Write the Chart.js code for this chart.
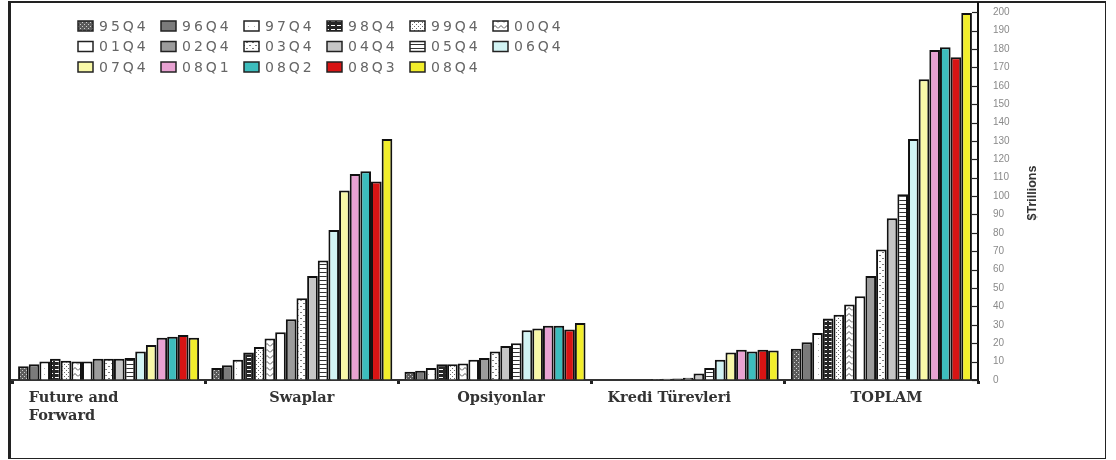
<!DOCTYPE html>
<html>
<head>
<meta charset="utf-8">
<title>Türev ürünler</title>
<script src="https://cdn.jsdelivr.net/npm/chart.js@4.4.1/dist/chart.umd.min.js"></script>
<style>
  html, body { margin: 0; padding: 0; background: #fff; }
  #wrap { position: relative; width: 1116px; height: 460px; overflow: hidden; }
  #frame { position: absolute; left: 8px; top: 1px; width: 1094px; height: 455px;
           border: solid #222; border-width: 2px 1px 1px 3px; }
  #chart { position: absolute; left: 0; top: 0; }
</style>
</head>
<body>
<div id="wrap">
  <div id="frame"></div>
  <canvas id="chart" width="1116" height="460"></canvas>
</div>
<script>
// ---------- data ($ trillions) ----------
const categories = [['Future and', 'Forward'], 'Swaplar', 'Opsiyonlar', 'Kredi Türevleri', 'TOPLAM'];

const periods = ['95Q4', '96Q4', '97Q4', '98Q4', '99Q4', '00Q4',
                 '01Q4', '02Q4', '03Q4', '04Q4', '05Q4', '06Q4',
                 '07Q4', '08Q1', '08Q2', '08Q3', '08Q4'];

const futureForward  = [7.5, 8.5, 10, 11.5, 10.5, 10, 10, 11.5, 11.5, 11.5, 12, 15.5, 19, 23, 23.5, 24.5, 23];
const swaplar        = [6.5, 8, 11, 15, 18, 22.5, 26, 33, 44.5, 56.5, 65, 81.5, 103, 112, 113.5, 108, 131];
const opsiyonlar     = [4.5, 5, 6.5, 8.5, 8.5, 9, 11, 12, 15.5, 18.5, 20, 27, 28, 29.5, 29.5, 27.5, 31];
const krediTurevleri = [0, 0, 0, 0, 0, 0.5, 0.7, 0.8, 1.2, 3.5, 6.5, 11, 15, 16.5, 15.5, 16.5, 16];
const toplam         = [17, 20.5, 25.5, 33.5, 35.5, 41, 45.5, 56.5, 71, 88, 101, 131, 163.5, 179.5, 181, 175.5, 199.5];

const yMax = 205;
const yStep = 10;
const yTitle = '$Trillions';

// ---------- fills ----------
function pattern(w, h, bg, paint) {
  const c = document.createElement('canvas');
  c.width = w; c.height = h;
  const g = c.getContext('2d');
  g.fillStyle = bg;
  g.fillRect(0, 0, w, h);
  if (paint) paint(g);
  return g.createPattern(c, 'repeat');
}

const fills = [
  pattern(4, 4, '#5c5c5c', g => { g.fillStyle = '#cfcfcf'; g.fillRect(0, 0, 1, 1); g.fillRect(2, 2, 1, 1); }), // 95Q4
  '#7b7b7b',                                                                                                    // 96Q4
  pattern(6, 6, '#fff', g => { g.fillStyle = '#b4b4b4'; g.fillRect(2, 2, 1, 1); }),                             // 97Q4
  pattern(6, 4, '#262626', g => { g.fillStyle = '#fff'; g.fillRect(1, 1, 4, 1); }),                             // 98Q4
  pattern(4, 4, '#fff', g => { g.fillStyle = '#6a6a6a'; g.fillRect(0, 0, 1, 1); g.fillRect(2, 2, 1, 1); }),     // 99Q4
  pattern(6, 6, '#fff', g => {                                                                                  // 00Q4
    g.strokeStyle = '#555'; g.lineWidth = 1;
    g.beginPath(); g.moveTo(0, 4.5); g.lineTo(3, 1.5); g.lineTo(6, 4.5); g.stroke();
  }),
  '#ffffff',                                                                                                    // 01Q4
  '#9c9c9c',                                                                                                    // 02Q4
  pattern(6, 6, '#fff', g => { g.fillStyle = '#7a7a7a'; g.fillRect(0, 0, 2, 1); g.fillRect(3, 3, 2, 1); }),     // 03Q4
  '#c6c6c6',                                                                                                    // 04Q4
  pattern(6, 4, '#fff', g => { g.fillStyle = '#333'; g.fillRect(0, 0, 6, 1); }),                                // 05Q4
  '#d2f4f4', '#f8f8a8', '#e8a2d2', '#3dbdbd', '#d81414', '#f2ee2c'
];

const datasets = periods.map((p, i) => ({
  label: p,
  data: [futureForward[i], swaplar[i], opsiyonlar[i], krediTurevleri[i], toplam[i]],
  backgroundColor: fills[i],
  borderColor: '#111',
  borderWidth: 2
}));

// ---------- plugins ----------
// legend block drawn inside the plot, 6 entries per row
const insetLegend = {
  id: 'insetLegend',
  afterDraw(chart) {
    const ctx = chart.ctx;
    ctx.save();
    ctx.font = '14px "DejaVu Sans"';
    ctx.letterSpacing = '3px';
    ctx.textBaseline = 'middle';
    chart.data.datasets.forEach((ds, i) => {
      const col = i % 6, row = Math.floor(i / 6);
      const x = 78 + col * 83, y = 26 + row * 20.5;
      ctx.fillStyle = ds.backgroundColor;
      ctx.fillRect(x, y - 5, 15, 10);
      ctx.strokeStyle = '#222';
      ctx.lineWidth = 1.5;
      ctx.strokeRect(x, y - 5, 15, 10);
      ctx.fillStyle = '#666';
      ctx.fillText(ds.label, x + 21, y + 1);
    });
    ctx.restore();
  }
};

// category names under the x axis
const labelShift = [-35, 0, 6, -19, 5];
const categoryLabels = {
  id: 'categoryLabels',
  afterDraw(chart) {
    const ctx = chart.ctx, xs = chart.scales.x;
    ctx.save();
    ctx.font = 'bold 14.5px "DejaVu Serif"';
    ctx.fillStyle = '#333';
    ctx.textBaseline = 'middle';
    ctx.textAlign = 'left';
    chart.data.labels.forEach((lab, i) => {
      const lines = Array.isArray(lab) ? lab : [lab];
      const w = Math.max(...lines.map(l => ctx.measureText(l).width));
      const x0 = xs.getPixelForTick(i) + labelShift[i] - w / 2;
      lines.forEach((l, k) => ctx.fillText(l, x0, 398 + k * 18));
    });
    ctx.restore();
  }
};

// inward tick marks on the value axis and its rotated title
const axisExtras = {
  id: 'axisExtras',
  afterDraw(chart) {
    const ctx = chart.ctx, ys = chart.scales.y, right = chart.chartArea.right;
    ctx.save();
    ctx.strokeStyle = '#222';
    ctx.lineWidth = 1.2;
    ys.ticks.forEach(t => {
      const y = Math.round(ys.getPixelForValue(t.value)) + 0.5;
      ctx.beginPath(); ctx.moveTo(right - 6, y); ctx.lineTo(right, y); ctx.stroke();
    });
    ctx.translate(1033, 193);
    ctx.rotate(-Math.PI / 2);
    ctx.font = 'bold 12.5px "Liberation Sans Narrow", "Liberation Sans"';
    ctx.fillStyle = '#333';
    ctx.textAlign = 'center';
    ctx.textBaseline = 'middle';
    ctx.fillText(yTitle, 0, 0);
    ctx.restore();
  }
};

// ---------- chart ----------
new Chart(document.getElementById('chart'), {
  type: 'bar',
  data: { labels: categories, datasets },
  options: {
    responsive: false,
    animation: false,
    layout: { padding: { left: 12, top: 3, right: 0, bottom: 0 } },
    datasets: { bar: { categoryPercentage: 0.937, barPercentage: 1, borderSkipped: 'bottom' } },
    plugins: { legend: { display: false }, tooltip: { enabled: false } },
    scales: {
      x: {
        offset: true,
        grid: { offset: true, drawOnChartArea: false, tickLength: 4, tickWidth: 3, tickColor: '#222' },
        border: { color: '#333', width: 2 },
        ticks: { display: false },
        afterFit: s => { s.height = 80; }
      },
      y: {
        position: 'right',
        min: 0,
        max: yMax,
        // blank tick marks only push the labels away from the axis line
        grid: { drawOnChartArea: false, drawTicks: true, tickLength: 15, tickColor: 'rgba(0,0,0,0)' },
        border: { color: '#111', width: 2 },
        ticks: {
          stepSize: yStep, includeBounds: false, padding: 0, color: '#8a8a8a',
          font: { family: 'Liberation Sans', size: 10, lineHeight: 0.6 }
        },
        afterFit: s => { s.width = 138; }
      }
    }
  },
  plugins: [insetLegend, categoryLabels, axisExtras]
});
</script>
</body>
</html>
